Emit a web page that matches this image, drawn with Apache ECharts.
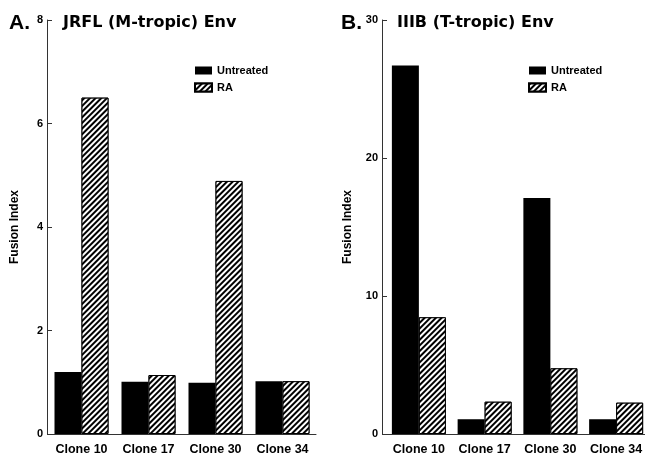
<!DOCTYPE html>
<html>
<head>
<meta charset="utf-8">
<script src="https://cdn.jsdelivr.net/npm/echarts@6/dist/echarts.min.js"></script>
<style>
  html, body { margin: 0; padding: 0; background: #fff; }
  #chart { width: 645px; height: 453px; }
</style>
</head>
<body>
<div id="chart"></div>
<script>
// data
const categories = ['Clone 10', 'Clone 17', 'Clone 30', 'Clone 34']
const jrflUntreated = [1.2, 1.01, 0.99, 1.02]
const jrflRA = [6.5, 1.14, 4.89, 1.02]
const iiibUntreated = [26.7, 1.07, 17.1, 1.07]
const iiibRA = [8.46, 2.34, 4.76, 2.27]
const jrflTicks = [0, 2, 4, 6, 8]
const iiibTicks = [0, 10, 20, 30]

const font = 'Liberation Sans, Arial, Helvetica, sans-serif'
const heavyFont = 'DejaVu Sans, Liberation Sans, sans-serif'

// diagonal hatch used for the RA bars
const hatch = {
  symbol: 'rect',
  symbolSize: 1,
  color: '#000',
  backgroundColor: '#fff',
  dashArrayX: [1, 0],
  dashArrayY: [1.4, 1.5],
  rotation: -Math.PI / 4
}

const chart = echarts.init(document.getElementById('chart'), null, { renderer: 'canvas' })

function yAxisFor (gridIndex, ticks, offset) {
  return {
    type: 'value',
    gridIndex: gridIndex,
    min: ticks[0],
    max: ticks[ticks.length - 1],
    interval: ticks[1] - ticks[0],
    offset: offset,
    name: 'Fusion Index',
    nameLocation: 'middle',
    nameRotate: 90,
    nameGap: gridIndex === 0 ? 26 : 28,
    nameTextStyle: { fontFamily: font, fontWeight: 'bold', fontSize: 12, color: '#000' },
    axisLine: { show: true, lineStyle: { color: '#333', width: 1 } },
    axisTick: { show: true, inside: true, length: 5, lineStyle: { color: '#333' } },
    axisLabel: { margin: 4, fontFamily: font, fontWeight: 'bold', fontSize: 11, color: '#000' },
    splitLine: { show: false }
  }
}

function xAxisFor (gridIndex) {
  return {
    type: 'category',
    gridIndex: gridIndex,
    data: categories,
    axisLine: { show: true, lineStyle: { color: '#333', width: 1 } },
    axisTick: { show: false },
    axisLabel: { margin: 9, fontFamily: font, fontWeight: 'bold', fontSize: 12.5, color: '#000', interval: 0 }
  }
}

function barsFor (name, values, idx, isRA) {
  return {
    type: 'bar',
    name: name,
    xAxisIndex: idx,
    yAxisIndex: idx,
    data: values,
    barWidth: 27,
    barGap: '0%',
    itemStyle: isRA
      ? { color: '#fff', borderColor: '#000', borderWidth: 1, decal: hatch }
      : { color: '#000', borderColor: '#000', borderWidth: 0 }
  }
}

function legendAt (left, names) {
  return {
    left: left,
    top: 65,
    orient: 'vertical',
    padding: 0,
    itemGap: 6,
    itemWidth: 17,
    itemHeight: 8,
    itemTextGap: 10,
    icon: 'rect',
    selectedMode: false,
    data: names,
    textStyle: { fontFamily: font, fontWeight: 'bold', fontSize: 11, color: '#000' }
  }
}

const option = {
  backgroundColor: '#fff',
  animation: false,
  aria: { enabled: false },
  title: [
    { text: 'A.', left: 9, top: 13, padding: 0, textStyle: { fontFamily: font, fontWeight: 'bold', fontSize: 21, color: '#000' } },
    { text: 'JRFL (M-tropic) Env', left: 63, top: 15, padding: 0, textStyle: { fontFamily: heavyFont, fontWeight: 'bold', fontSize: 16, color: '#000' } },
    { text: 'B.', left: 341, top: 13, padding: 0, textStyle: { fontFamily: font, fontWeight: 'bold', fontSize: 21, color: '#000' } },
    { text: 'IIIB (T-tropic) Env', left: 397, top: 15, padding: 0, textStyle: { fontFamily: heavyFont, fontWeight: 'bold', fontSize: 16, color: '#000' } }
  ],
  legend: [
    legendAt(194, ['Untreated', 'RA']),
    legendAt(528, ['Untreated ', 'RA '])
  ],
  grid: [
    { left: 48, right: 329, top: 20, bottom: 19, outerBoundsMode: 'none' },
    { left: 386, right: -4, top: 20, bottom: 19, outerBoundsMode: 'none' }
  ],
  xAxis: [xAxisFor(0), xAxisFor(1)],
  yAxis: [yAxisFor(0, jrflTicks, 1), yAxisFor(1, iiibTicks, 4)],
  series: [
    barsFor('Untreated', jrflUntreated, 0, false),
    barsFor('RA', jrflRA, 0, true),
    barsFor('Untreated ', iiibUntreated, 1, false),
    barsFor('RA ', iiibRA, 1, true)
  ]
}

chart.setOption(option)
</script>
</body>
</html>
